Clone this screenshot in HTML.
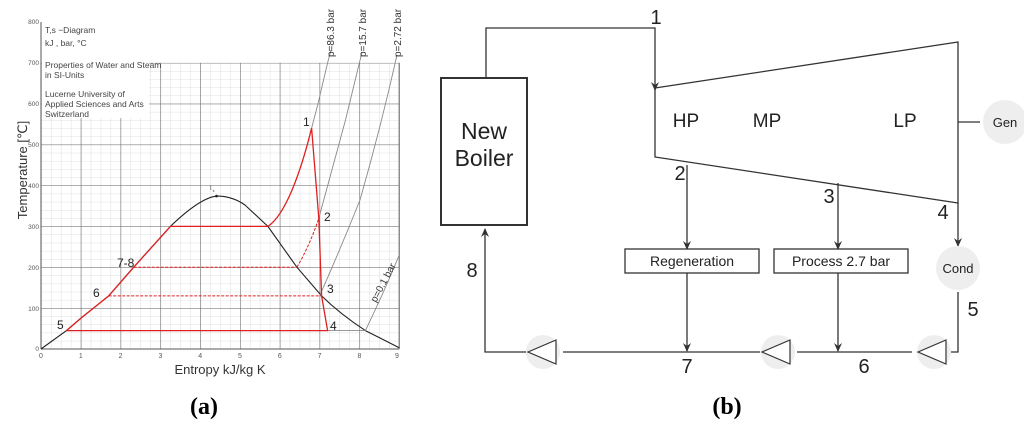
<!DOCTYPE html>
<html><head><meta charset="utf-8"><style>
html,body{margin:0;padding:0;background:#fff;width:1024px;height:421px;overflow:hidden}
svg{display:block}
text{font-family:"Liberation Sans","DejaVu Sans",sans-serif}
</style></head><body>
<svg width="1024" height="421" viewBox="0 0 1024 421" xmlns="http://www.w3.org/2000/svg">
<defs>
<pattern id="minor" x="41" y="349" width="9.95" height="8.176" patternUnits="userSpaceOnUse">
<path d="M0,0 V8.176 M0,0 H9.95" stroke="#d6d6d6" stroke-width="0.8" fill="none"/>
</pattern>
<pattern id="major" x="41" y="349" width="39.8" height="40.88" patternUnits="userSpaceOnUse">
<path d="M0,0 V40.88 M0,0 H39.8" stroke="#666" stroke-width="1.1" fill="none"/>
</pattern>
<marker id="ah" markerWidth="10" markerHeight="10" refX="8" refY="5" orient="auto" markerUnits="userSpaceOnUse">
<path d="M0,1 L9,5 L0,9 L3,5 Z" fill="#333"/>
</marker>
</defs>

<rect x="41" y="62.8" width="358.2" height="286.2" fill="url(#minor)"/>
<rect x="41" y="62.8" width="358.2" height="286.2" fill="url(#major)"/>
<line x1="399.2" y1="62.8" x2="399.2" y2="349" stroke="#666" stroke-width="1.1"/>
<line x1="41" y1="349" x2="399.2" y2="349" stroke="#555" stroke-width="1"/>
<line x1="41" y1="22" x2="41" y2="349" stroke="#555" stroke-width="1"/>
<rect x="42" y="23" width="107" height="95" fill="#fff"/>
<g font-size="8.5" fill="#444">
<text x="45" y="33">T,s −Diagram</text>
<text x="45" y="46">kJ , bar, °C</text>
<text x="45" y="68">Properties of Water and Steam</text>
<text x="45" y="78">in SI-Units</text>
<text x="45" y="97">Lucerne University of</text>
<text x="45" y="107">Applied Sciences and Arts</text>
<text x="45" y="117">Switzerland</text>
</g>
<g font-size="6.5" fill="#555" text-anchor="end">
<text x="39" y="24">800</text><text x="39" y="65">700</text><text x="39" y="106">600</text>
<text x="39" y="147">500</text><text x="39" y="188">400</text><text x="39" y="229">300</text>
<text x="39" y="270">200</text><text x="39" y="311">100</text><text x="39" y="351">0</text>
</g>
<g font-size="7" fill="#555" text-anchor="middle">
<text x="41" y="358">0</text><text x="80.8" y="358">1</text><text x="120.6" y="358">2</text>
<text x="160.4" y="358">3</text><text x="200.2" y="358">4</text><text x="240" y="358">5</text>
<text x="279.8" y="358">6</text><text x="319.6" y="358">7</text><text x="359.4" y="358">8</text>
<text x="397" y="358">9</text>
</g>
<text x="220" y="374" font-size="13" fill="#333" text-anchor="middle">Entropy kJ/kg K</text>
<text transform="translate(27,170) rotate(-90)" font-size="13" fill="#333" text-anchor="middle">Temperature [℃]</text>

<path d="M41,349 L66.5,330.6 L80.8,318.3 L108.7,295.9 L133.7,267.2 L170.4,226.4 Q200,198 216.5,196.1 Q232,196 245,205 L267.9,226.4 L296.9,267.2 L321.6,295.9 Q340,314 365.4,330.6 L399.2,347.8" fill="none" stroke="#222" stroke-width="1.1"/>
<circle cx="216.5" cy="196.1" r="1.3" fill="#222"/>
<text x="209" y="190" font-size="6" fill="#444">T<tspan font-size="4" dy="2">k</tspan></text>

<g fill="none" stroke="#888" stroke-width="0.9">
<path d="M311.6,128.2 L318,103.7 L327.6,62.8 L331,50"/>
<path d="M318.8,218.2 Q332,170 345.5,120 L359.4,62.8 L362,52"/>
<path d="M319.6,295.9 Q340,250 360,200 Q380,130 395.2,62.8 L397,55"/>
<path d="M365.4,330.6 Q385,290 399.2,255"/>
<path d="M327.6,330.6 H365.4"/>
</g>
<g font-size="10" fill="#333">
<text transform="translate(334,57) rotate(-90)">p=86.3 bar</text>
<text transform="translate(366,57) rotate(-90)">p=15.7 bar</text>
<text transform="translate(401,57) rotate(-90)">p=2.72 bar</text>
<text transform="translate(376,303) rotate(-62)">p=0.1 bar</text>
</g>

<g fill="none" stroke="#e02020" stroke-width="1.3">
<path d="M66.5,330.6 L80.8,318.3 L108.7,295.9 L133.7,267.2 L170.4,226.4 H267.9 C285,215 300,175 311.6,128.2 L318.8,218.2 L321.6,295.9 L327.6,330.6 H66.5"/>
<path d="M133.7,267.2 H296.9" stroke-dasharray="3,1.5" stroke-width="1"/>
<path d="M108.7,295.9 H321.6" stroke-dasharray="3,1.5" stroke-width="1"/>
<path d="M296.9,267.2 Q310,245 318.8,218.2" stroke-dasharray="3,1.5" stroke-width="1"/>
</g>
<g font-size="12" fill="#222">
<text x="303" y="126">1</text><text x="324" y="221">2</text><text x="327" y="293">3</text>
<text x="330" y="330">4</text><text x="57" y="329">5</text><text x="93" y="297">6</text>
<text x="117" y="267">7-8</text>
</g>
<text x="204" y="414" font-size="24" font-weight="bold" text-anchor="middle" style="font-family:'Liberation Serif',serif">(a)</text>

<g fill="none" stroke="#333" stroke-width="1.3">
<rect x="441" y="78" width="86" height="147" stroke-width="2"/>
<path d="M486,78 V28 H655 V90" marker-end="url(#ah)"/>
<path d="M655,88 L958,42 V203 L655,157 Z"/>
<path d="M958,122 H980"/>
<path d="M687,165 V249" marker-end="url(#ah)"/>
<path d="M838,183 V249" marker-end="url(#ah)"/>
<path d="M958,203 V246" marker-end="url(#ah)"/>
<rect x="625" y="249" width="134" height="24"/>
<rect x="774" y="249" width="134" height="24"/>
<path d="M687,273 V351" marker-end="url(#ah)"/>
<path d="M838,273 V351" marker-end="url(#ah)"/>
<path d="M958,292 V352 H944"/>
<path d="M912,352 H797"/>
<path d="M760,352 H563"/>
<path d="M528,352 H485 V229" marker-end="url(#ah)"/>
</g>
<g fill="#eee">
<circle cx="1005" cy="122" r="22"/>
<circle cx="958" cy="268" r="22"/>
<circle cx="543" cy="352" r="17"/>
<circle cx="778" cy="352" r="17"/>
<circle cx="934" cy="352" r="17"/>
</g>
<g fill="#fff" stroke="#333" stroke-width="1.2">
<path d="M528,352 L556,340 V364 Z"/>
<path d="M762,352 L790,340 V364 Z"/>
<path d="M918,352 L946,340 V364 Z"/>
</g>
<g fill="#222" text-anchor="middle">
<text x="484" y="139" font-size="23">New</text>
<text x="484" y="166" font-size="23">Boiler</text>
<text x="686" y="127" font-size="19">HP</text>
<text x="767" y="127" font-size="19">MP</text>
<text x="905" y="127" font-size="19">LP</text>
<text x="1005" y="127" font-size="13">Gen</text>
<text x="958" y="273" font-size="13">Cond</text>
<text x="692" y="266" font-size="14">Regeneration</text>
<text x="841" y="266" font-size="14">Process 2.7 bar</text>
<text x="656" y="24" font-size="20">1</text>
<text x="680" y="180" font-size="20">2</text>
<text x="829" y="203" font-size="20">3</text>
<text x="943" y="219" font-size="20">4</text>
<text x="973" y="316" font-size="20">5</text>
<text x="864" y="373" font-size="20">6</text>
<text x="687" y="373" font-size="20">7</text>
<text x="472" y="277" font-size="20">8</text>
</g>
<text x="727" y="414" font-size="24" font-weight="bold" text-anchor="middle" style="font-family:'Liberation Serif',serif">(b)</text>
</svg>
</body></html>
